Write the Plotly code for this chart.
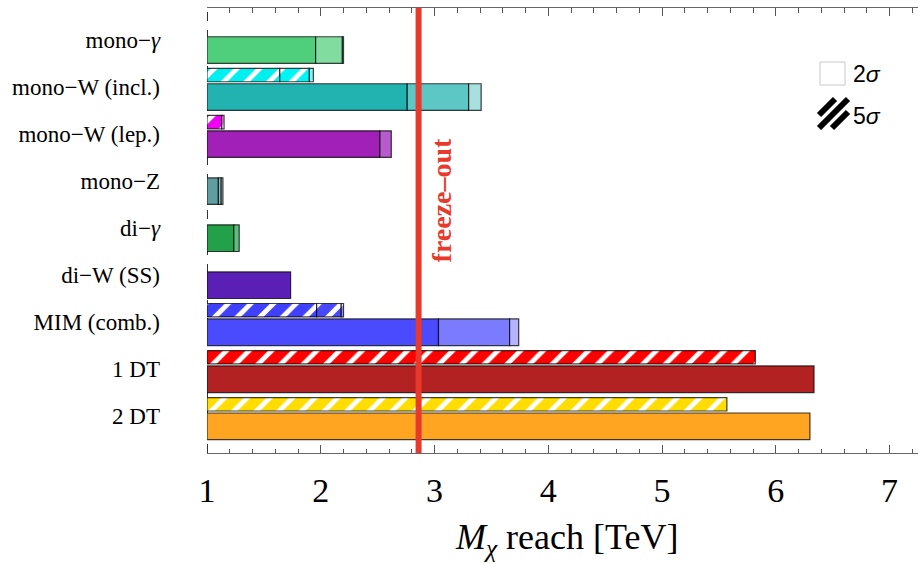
import plotly.graph_objects as go

# ---------------- data ----------------
categories = ["mono−<i>γ</i>", "mono−W (incl.)", "mono−W (lep.)", "mono−Z",
              "di−<i>γ</i>", "di−W (SS)", "MIM (comb.)", "1 DT", "2 DT"]

# cumulative reach levels (TeV) for the 2σ bars (darkest -> lightest segment)
reach_2sigma = [
    [1.955, 2.19, 2.20],
    [2.76, 3.30, 3.41],
    [2.52, 2.62],
    [1.10, 1.125, 1.14],
    [1.236, 1.283],
    [1.735],
    [3.035, 3.66, 3.74],
    [6.336],
    [6.30],
]
# cumulative reach levels (TeV) for the 5σ (hatched) bars
reach_5sigma = [
    None,
    [1.64, 1.90, 1.935],
    [1.13, 1.15],
    None,
    None,
    None,
    [1.964, 2.18, 2.20],
    [5.82],
    [5.57],
]
freeze_out_mass = 2.86
bar_start = 1.0
x_tick_values = [1, 2, 3, 4, 5, 6, 7]

# ---------------- styles ----------------
colors_2sigma = [
    ["#4fcf7b", "#80dc9f", "#b5ebc7"],
    ["#22b2b0", "#5cc7c5", "#a8dfdf"],
    ["#a020b8", "#b85ccd"],
    ["#5f9ea0", "#8fbcbd", "#bdd7d8"],
    ["#22a04a", "#5fbd7d"],
    ["#5a20b5"],
    ["#4a4aff", "#7b7bff", "#b3b3ff"],
    ["#b22222"],
    ["#ffa521"],
]
colors_5sigma = [
    None,
    ["#00f0f0", "#00f5f5", "#80f5f5"],
    ["#f000f0", "#f8a0f8"],
    None, None, None,
    ["#4040ff", "#4848ff", "#9a9aff"],
    ["#ff0000"],
    ["#ffdd00"],
]
H2, H5, OFF5, LABEL_OFF = 0.566, 0.285, 0.468, 0.22
OUTLINE = dict(color="rgba(0,0,0,0.75)", width=1.2)

W, Hfig = 918, 564
ML, MR, MT, MB = 207, 0, 8, 111
PW, PH = W - ML - MR, Hfig - MT - MB


def px2paper(px, py):
    return (px - ML) / PW, (Hfig - MB - py) / PH


fig = go.Figure()
n = len(categories)

for i in range(n):
    k = n - 1 - i
    # 2 sigma bars
    prev = bar_start
    for v, c in zip(reach_2sigma[i], colors_2sigma[i]):
        if v > prev:
            fig.add_trace(go.Bar(orientation="h", y=[k], x=[v - prev], base=[prev],
                                 width=[H2], marker=dict(color=c, line=OUTLINE),
                                 showlegend=False, hoverinfo="skip"))
        prev = v
    # 5 sigma hatched bars
    if reach_5sigma[i]:
        prev = bar_start
        for v, c in zip(reach_5sigma[i], colors_5sigma[i]):
            if v > prev:
                fig.add_trace(go.Bar(orientation="h", y=[k + OFF5], x=[v - prev], base=[prev],
                                     width=[H5],
                                     marker=dict(color=c, line=OUTLINE,
                                                 pattern=dict(shape="/", fgcolor="white",
                                                              fgopacity=1, size=16,
                                                              solidity=0.3,
                                                              fillmode="overlay")),
                                     showlegend=False, hoverinfo="skip"))
            prev = v

# dashed left axis
fig.add_shape(type="line", xref="x", yref="paper", x0=bar_start, x1=bar_start, y0=0, y1=1,
              line=dict(color="black", width=1.6, dash="dash"), layer="below")

# freeze-out line
fig.add_shape(type="line", xref="x", yref="paper", x0=freeze_out_mass, x1=freeze_out_mass,
              y0=0, y1=1, line=dict(color="#e8392b", width=6), layer="above")
fig.add_annotation(x=freeze_out_mass + 0.2, y=4.81, xref="x", yref="y",
                   text="<b>freeze–out</b>", textangle=-90, showarrow=False,
                   font=dict(family="Liberation Serif", size=28, color="#e8392b"))

# legend (drawn)
x0, y0 = px2paper(820, 62)
x1, y1 = px2paper(845, 85)
fig.add_shape(type="rect", xref="paper", yref="paper", x0=x0, x1=x1, y0=y1, y1=y0,
              line=dict(color="#c8c8c8", width=1), fillcolor="white", layer="above")
tx, ty = px2paper(851, 74)
fig.add_annotation(x=tx, y=ty, xref="paper", yref="paper", xanchor="left", yanchor="middle",
                   text="2<i>σ</i>", showarrow=False,
                   font=dict(family="Liberation Sans", size=23, color="black"))
sx0, sy_bottom, s = 819, 128, 29
for c in (-13, 0, 13):
    if c >= 0:
        ua, va, ub, vb = c, 0, s, s - c
    else:
        ua, va, ub, vb = 0, -c, s + c, s
    ax, ay = px2paper(sx0 + ua, sy_bottom - va)
    bx, by = px2paper(sx0 + ub, sy_bottom - vb)
    fig.add_shape(type="line", xref="paper", yref="paper", x0=ax, y0=ay, x1=bx, y1=by,
                  line=dict(color="black", width=6), layer="above")
tx, ty = px2paper(851, 116)
fig.add_annotation(x=tx, y=ty, xref="paper", yref="paper", xanchor="left", yanchor="middle",
                   text="5<i>σ</i>", showarrow=False,
                   font=dict(family="Liberation Sans", size=23, color="black"))

# x-axis title
tx, ty = px2paper(566, 563)
fig.add_annotation(x=tx, y=ty, xref="paper", yref="paper", xanchor="center", yanchor="bottom",
                   text="<i>M</i><sub><i>χ</i></sub> reach [TeV]", showarrow=False,
                   borderpad=0,
                   font=dict(family="Liberation Serif", size=36, color="black"))

fig.update_layout(
    width=W, height=Hfig,
    margin=dict(l=ML, r=MR, t=MT, b=MB, autoexpand=False),
    barmode="overlay",
    plot_bgcolor="white", paper_bgcolor="white",
    showlegend=False,
    xaxis=dict(range=[bar_start, 7.25], tickvals=x_tick_values,
               ticktext=[str(v) for v in x_tick_values],
               ticks="inside", ticklen=8, tickcolor="#555", tickwidth=1,
               minor=dict(dtick=0.2, ticks="inside", ticklen=4.5, tickcolor="#555"),
               showline=True, linecolor="#666", linewidth=1, mirror="ticks",
               showgrid=False, zeroline=False, ticklabelstandoff=7,
               tickfont=dict(family="Liberation Serif", size=34, color="black")),
    yaxis=dict(range=[-0.568, 8.894], tickvals=[n - 1 - i + LABEL_OFF for i in range(n)],
               ticktext=categories, ticks="", showline=False, showgrid=False,
               zeroline=False, ticklabelstandoff=46,
               tickfont=dict(family="Liberation Serif", size=23, color="black")),
)

fig.write_html("out.html", config={"displayModeBar": False},
               post_script="document.body.style.margin='0';document.body.style.overflow='hidden';")
